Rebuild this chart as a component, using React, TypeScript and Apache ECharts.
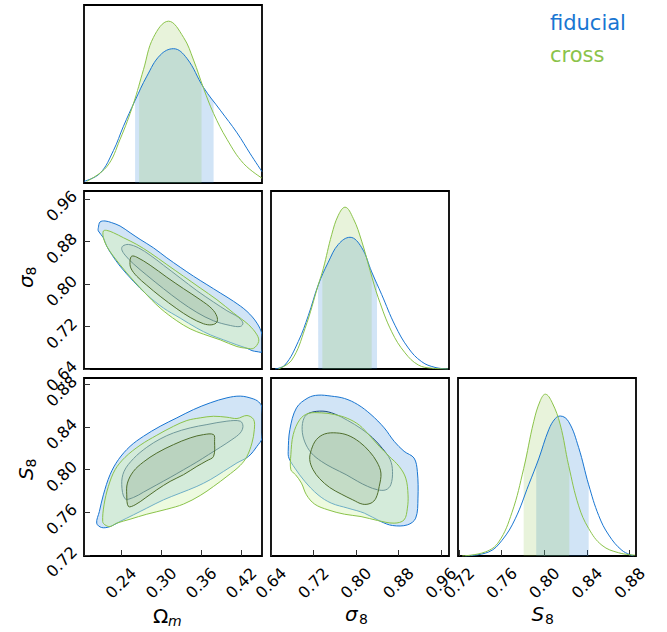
import React, { useEffect, useRef } from 'react';
import * as echarts from 'echarts';

const BLUE = '#1976D2';
const GREEN = '#8BC34A';
const FONT = 'DejaVu Sans';

// axis ranges
const OMEGA_RANGE = [0.1845, 0.451];
const SIGMA_RANGE = [0.64, 0.975];
const S8_RANGE = [0.719, 0.886];
const DENSITY_MAX = 1.1;

// tick labels
const OMEGA_TICKS = [0.24, 0.3, 0.36, 0.42];
const SIGMA_TICKS = [0.64, 0.72, 0.8, 0.88, 0.96];
const S8_TICKS = [0.72, 0.76, 0.8, 0.84, 0.88];

// legend
const CHAINS = ['fiducial', 'cross'];

// 1D marginals [value, density]
const omegaFiducial = [[0.1845,0.01],[0.2085,0.06],[0.2285,0.2],[0.2435,0.35],[0.261,0.51],[0.2786,0.66],[0.2985,0.79],[0.3185,0.83],[0.3386,0.77],[0.3635,0.59],[0.3885,0.45],[0.4136,0.31],[0.4335,0.18],[0.451,0.07]];
const omegaCross = [[0.1885,0.01],[0.2185,0.1],[0.2385,0.27],[0.2585,0.49],[0.2735,0.7],[0.2885,0.9],[0.311,1.0],[0.3335,0.9],[0.3485,0.76],[0.3635,0.585],[0.3785,0.43],[0.3986,0.27],[0.4235,0.12],[0.451,0.03]];
const sigmaFiducial = [[0.6475,0],[0.6663,0.025],[0.6914,0.17],[0.7102,0.33],[0.729,0.52],[0.7478,0.66],[0.7667,0.77],[0.7887,0.814],[0.8107,0.75],[0.8295,0.6],[0.8483,0.46],[0.8734,0.27],[0.8984,0.13],[0.9236,0.045],[0.9486,0.01],[0.9731,0]];
const sigmaCross = [[0.6537,0],[0.679,0.055],[0.704,0.25],[0.729,0.52],[0.7384,0.62],[0.7542,0.83],[0.7667,0.95],[0.7793,1.0],[0.7949,0.93],[0.8107,0.79],[0.8263,0.61],[0.8419,0.44],[0.8672,0.23],[0.8922,0.1],[0.9172,0.025],[0.9424,0.005],[0.9731,0]];
const s8Fiducial = [[0.7258,0],[0.7478,0.025],[0.7603,0.097],[0.7727,0.23],[0.7853,0.44],[0.7947,0.6],[0.8041,0.78],[0.8103,0.85],[0.815,0.865],[0.8228,0.83],[0.8322,0.67],[0.8416,0.44],[0.851,0.25],[0.8604,0.13],[0.8728,0.035],[0.8838,0]];
const s8Cross = [[0.7228,0],[0.7446,0.025],[0.7572,0.087],[0.7697,0.27],[0.7806,0.54],[0.79,0.83],[0.7962,0.96],[0.8009,1.0],[0.8072,0.95],[0.815,0.81],[0.8228,0.56],[0.8322,0.31],[0.8416,0.17],[0.8541,0.066],[0.8697,0.02],[0.8853,0.005]];

// 68% intervals
const omegaFiducialBand = [0.261, 0.3785];
const omegaCrossBand = [0.267, 0.3605];
const sigmaFiducialBand = [0.7285, 0.8395];
const sigmaCrossBand = [0.7366, 0.8295];
const s8FiducialBand = [0.7924, 0.8416];
const s8CrossBand = [0.7806, 0.8234];

// 2D contours: Omega_m vs sigma_8
const omSigFid95 = [[0.206,0.906],[0.2085,0.9167],[0.216,0.9186],[0.226,0.9154],[0.2385,0.9091],[0.2535,0.8965],[0.2685,0.8839],[0.2885,0.8681],[0.3085,0.8492],[0.3285,0.8316],[0.3485,0.8146],[0.3685,0.7988],[0.3885,0.7831],[0.4085,0.7673],[0.4285,0.7484],[0.4435,0.7263],[0.451,0.7043],[0.451,0.6727],[0.4435,0.6727],[0.436,0.6746],[0.4285,0.679],[0.4135,0.6854],[0.3935,0.6948],[0.3735,0.7043],[0.3535,0.7169],[0.3285,0.7358],[0.3035,0.7547],[0.2785,0.7799],[0.2585,0.8051],[0.2385,0.8335],[0.226,0.8555],[0.2185,0.8713],[0.2135,0.8871],[0.206,0.8997]];
const omSigCross95 = [[0.2135,0.8997],[0.2185,0.9009],[0.2285,0.8965],[0.2435,0.8871],[0.2635,0.8744],[0.2835,0.8587],[0.3085,0.8366],[0.3335,0.8146],[0.3585,0.7925],[0.3835,0.7704],[0.4085,0.7452],[0.431,0.7232],[0.4435,0.7043],[0.446,0.6917],[0.4385,0.679],[0.4285,0.679],[0.4135,0.6822],[0.3885,0.6948],[0.3635,0.7055],[0.3435,0.7156],[0.3235,0.7307],[0.2985,0.7547],[0.2735,0.7862],[0.2485,0.8209],[0.2285,0.8524],[0.2185,0.8713],[0.2135,0.8871]];
const omSigFid68 = [[0.2425,0.8713],[0.251,0.8744],[0.266,0.8681],[0.2835,0.8543],[0.3035,0.8354],[0.3285,0.8114],[0.3535,0.7875],[0.3785,0.766],[0.3985,0.7497],[0.416,0.737],[0.4225,0.7263],[0.4185,0.72],[0.4035,0.7219],[0.3785,0.7307],[0.3535,0.7465],[0.3285,0.7673],[0.3035,0.7912],[0.2785,0.8165],[0.2585,0.8379],[0.246,0.8543],[0.241,0.865]];
const omSigCross68 = [[0.2535,0.8442],[0.256,0.8524],[0.2635,0.8505],[0.2835,0.8354],[0.3085,0.8127],[0.3335,0.7912],[0.3585,0.7704],[0.376,0.7534],[0.3835,0.7389],[0.3835,0.7282],[0.376,0.7232],[0.3635,0.7251],[0.3435,0.737],[0.3235,0.7534],[0.2985,0.7768],[0.2785,0.7976],[0.2635,0.8146],[0.2545,0.8303]];

// Omega_m vs S_8
const omS8Fid95 = [[0.2035,0.7498],[0.2075,0.7607],[0.2135,0.7764],[0.2235,0.7953],[0.236,0.8094],[0.2535,0.8219],[0.2735,0.8313],[0.2985,0.8407],[0.3235,0.8486],[0.3485,0.8564],[0.3735,0.8627],[0.3985,0.8674],[0.4185,0.869],[0.436,0.8668],[0.446,0.8636],[0.451,0.858],[0.451,0.8298],[0.4435,0.8219],[0.431,0.8125],[0.4135,0.8063],[0.3935,0.7984],[0.3735,0.7906],[0.3535,0.7843],[0.3285,0.778],[0.3035,0.7717],[0.2785,0.7639],[0.2585,0.7576],[0.2385,0.7514],[0.2235,0.7466],[0.211,0.7457]];
const omS8Cross95 = [[0.2125,0.7513],[0.2145,0.767],[0.221,0.7843],[0.231,0.7999],[0.246,0.8116],[0.2685,0.8229],[0.2935,0.8323],[0.3185,0.8407],[0.3385,0.8461],[0.3585,0.8486],[0.3785,0.8501],[0.3985,0.8492],[0.4135,0.848],[0.4285,0.8508],[0.4385,0.847],[0.4395,0.8376],[0.436,0.8251],[0.4285,0.8125],[0.4185,0.804],[0.3985,0.7937],[0.3785,0.7843],[0.3585,0.7758],[0.3335,0.7677],[0.3085,0.7629],[0.2785,0.7582],[0.2535,0.7535],[0.2335,0.7498],[0.2235,0.7466],[0.216,0.7482]];
const omS8Fid68 = [[0.246,0.7727],[0.241,0.7859],[0.2445,0.7984],[0.2585,0.8103],[0.2785,0.821],[0.2985,0.8288],[0.3185,0.8345],[0.3435,0.8392],[0.3685,0.8423],[0.3985,0.8455],[0.4185,0.8455],[0.4225,0.8407],[0.4185,0.8345],[0.406,0.8282],[0.3885,0.821],[0.371,0.8141],[0.3535,0.8072],[0.3335,0.7999],[0.3135,0.7927],[0.2935,0.7858],[0.2735,0.7789],[0.2585,0.7739]];
const omS8Cross68 = [[0.251,0.7655],[0.2485,0.7764],[0.2495,0.7874],[0.2585,0.7984],[0.2735,0.8072],[0.2935,0.8156],[0.3185,0.8235],[0.3435,0.8298],[0.3635,0.8329],[0.3785,0.8329],[0.38,0.8266],[0.3785,0.8125],[0.3685,0.8084],[0.3535,0.8031],[0.3335,0.7953],[0.3135,0.789],[0.2935,0.7811],[0.276,0.7733],[0.261,0.767]];

// sigma_8 vs S_8
const sigS8Fid95 = [[0.6724,0.8172],[0.6755,0.8376],[0.688,0.858],[0.7098,0.8674],[0.7285,0.8699],[0.7534,0.869],[0.7783,0.8668],[0.8032,0.8611],[0.8282,0.8517],[0.8531,0.8392],[0.8718,0.8266],[0.8905,0.8172],[0.9092,0.8109],[0.9154,0.7984],[0.9166,0.7733],[0.9123,0.7545],[0.8967,0.7482],[0.8687,0.7476],[0.8469,0.7513],[0.8157,0.7592],[0.7846,0.7639],[0.7534,0.7686],[0.7285,0.7764],[0.7036,0.789],[0.6849,0.8015],[0.6737,0.8109]];
const sigS8Cross95 = [[0.6774,0.7999],[0.6774,0.8141],[0.6818,0.8329],[0.6942,0.847],[0.7098,0.8527],[0.7347,0.8533],[0.7596,0.8517],[0.7846,0.848],[0.8064,0.8417],[0.825,0.8323],[0.8437,0.8219],[0.8624,0.8125],[0.8811,0.8031],[0.8936,0.7921],[0.8979,0.7764],[0.8967,0.7639],[0.8905,0.7529],[0.8718,0.7498],[0.8406,0.7523],[0.8095,0.756],[0.7783,0.7582],[0.7472,0.7623],[0.7223,0.7676],[0.7067,0.7764],[0.6973,0.7874],[0.6861,0.7953]];
const sigS8Fid68 = [[0.6986,0.8376],[0.7023,0.8486],[0.7129,0.8533],[0.7378,0.8549],[0.7596,0.8523],[0.7846,0.8461],[0.8095,0.8385],[0.8313,0.8298],[0.85,0.8197],[0.8643,0.8094],[0.8687,0.7984],[0.8655,0.7859],[0.8562,0.7811],[0.8406,0.7811],[0.8219,0.7843],[0.8032,0.789],[0.7814,0.7953],[0.7565,0.8015],[0.7347,0.8078],[0.716,0.8156],[0.7036,0.826]];
const sigS8Cross68 = [[0.7129,0.8094],[0.716,0.8188],[0.7254,0.8282],[0.741,0.8335],[0.7628,0.8345],[0.7846,0.8323],[0.8064,0.826],[0.8251,0.8172],[0.8394,0.8072],[0.8469,0.7968],[0.8437,0.7843],[0.8375,0.7733],[0.8282,0.7686],[0.8126,0.7676],[0.7939,0.7717],[0.7721,0.7771],[0.7503,0.7833],[0.7316,0.7915],[0.7192,0.7999]];

const FILL = {
  blue95: 'rgba(25,118,210,0.2)',
  blue68: 'rgba(20,60,110,0.1)',
  green95: 'rgba(215,245,185,0.45)',
  green68: 'rgba(60,90,30,0.1)',
  blueBand: 'rgba(25,118,210,0.2)',
  greenBand: 'rgba(139,195,74,0.2)',
};
const EDGE = { blue95: BLUE, blue68: '#1C4E82', green95: GREEN, green68: '#4F6E2C' };

function bandPoints(curve: number[][], lo: number, hi: number) {
  const at = (x: number) => {
    for (let i = 0; i < curve.length - 1; i++) {
      const a = curve[i], b = curve[i + 1];
      if (x >= a[0] && x <= b[0]) return a[1] + ((b[1] - a[1]) * (x - a[0])) / (b[0] - a[0]);
    }
    return 0;
  };
  const out: number[][] = [[lo, at(lo)]];
  curve.forEach((p) => { if (p[0] > lo && p[0] < hi) out.push(p); });
  out.push([hi, at(hi)]);
  return out;
}

const GRIDS = [
  { left: 84, top: 5 },
  { left: 84, top: 191 },
  { left: 271, top: 191 },
  { left: 84, top: 378 },
  { left: 271, top: 378 },
  { left: 458, top: 378 },
];

export default function App() {
  const ref = useRef<HTMLDivElement>(null);
  useEffect(() => {
    if (!ref.current) return;
    const chart = echarts.init(ref.current, undefined, { renderer: 'svg' });

    const fmt = (v: number) => v.toFixed(2);
    const LABEL_SIZE = 16;
    const xAxis = (gi: number, range: number[], ticks: number[] | null) => ({
      type: 'value', gridIndex: gi, min: range[0], max: range[1],
      axisLine: { show: false }, splitLine: { show: false },
      axisTick: ticks ? { show: true, inside: true, length: 6, customValues: ticks, lineStyle: { color: '#333', width: 1 } } : { show: false },
      axisLabel: ticks ? { show: true, customValues: ticks, rotate: 45, align: 'center', verticalAlign: 'middle', margin: 27, fontSize: LABEL_SIZE, fontFamily: FONT, color: '#000', formatter: fmt } : { show: false },
    });
    const yAxis = (gi: number, range: number[], ticks: number[] | null) => ({
      type: 'value', gridIndex: gi, min: range[0], max: range[1],
      axisLine: { show: false }, splitLine: { show: false },
      axisTick: ticks ? { show: true, inside: true, length: 6, customValues: ticks, lineStyle: { color: '#333', width: 1 } } : { show: false },
      axisLabel: ticks ? { show: true, customValues: ticks, rotate: 45, align: 'right', verticalAlign: 'bottom', margin: 4, fontSize: LABEL_SIZE, fontFamily: FONT, color: '#000', formatter: fmt } : { show: false },
    });

    const dens = [0, DENSITY_MAX];
    const xAxes = [
      xAxis(0, OMEGA_RANGE, null), xAxis(1, OMEGA_RANGE, null), xAxis(2, SIGMA_RANGE, null),
      xAxis(3, OMEGA_RANGE, OMEGA_TICKS), xAxis(4, SIGMA_RANGE, SIGMA_TICKS), xAxis(5, S8_RANGE, S8_TICKS),
    ];
    const yAxes = [
      yAxis(0, dens, null), yAxis(1, SIGMA_RANGE, SIGMA_TICKS), yAxis(2, dens, null),
      yAxis(3, S8_RANGE, S8_TICKS), yAxis(4, S8_RANGE, null), yAxis(5, dens, null),
    ];

    const line = (gi: number, data: number[][], color: string) => ({
      type: 'line', xAxisIndex: gi, yAxisIndex: gi, data, smooth: 0.4, showSymbol: false, silent: true,
      lineStyle: { color, width: 1 }, clip: true,
    });
    const band = (gi: number, curve: number[][], b: number[], fill: string) => ({
      type: 'line', xAxisIndex: gi, yAxisIndex: gi, data: bandPoints(curve, b[0], b[1]), smooth: 0.4,
      showSymbol: false, silent: true, lineStyle: { width: 0, opacity: 0 }, areaStyle: { color: fill, opacity: 1 },
    });
    const poly = (gi: number, data: number[][], fill: string, stroke: string) => ({
      type: 'custom', xAxisIndex: gi, yAxisIndex: gi, clip: true, silent: true, data,
      encode: { x: 0, y: 1 },
      renderItem: (params: any, api: any) => {
        if (params.dataIndex !== 0) return null;
        const pts = data.map((p) => api.coord(p));
        return { type: 'polygon', shape: { points: pts, smooth: 0.35 }, style: { fill, stroke, lineWidth: 1 } };
      },
    });

    const series: any[] = [
      band(0, omegaFiducial, omegaFiducialBand, FILL.blueBand),
      band(0, omegaCross, omegaCrossBand, FILL.greenBand),
      line(0, omegaFiducial, BLUE), line(0, omegaCross, GREEN),
      band(2, sigmaFiducial, sigmaFiducialBand, FILL.blueBand),
      band(2, sigmaCross, sigmaCrossBand, FILL.greenBand),
      line(2, sigmaFiducial, BLUE), line(2, sigmaCross, GREEN),
      band(5, s8Fiducial, s8FiducialBand, FILL.blueBand),
      band(5, s8Cross, s8CrossBand, FILL.greenBand),
      line(5, s8Fiducial, BLUE), line(5, s8Cross, GREEN),
      poly(1, omSigFid95, FILL.blue95, EDGE.blue95), poly(1, omSigFid68, FILL.blue68, EDGE.blue68),
      poly(1, omSigCross95, FILL.green95, EDGE.green95), poly(1, omSigCross68, FILL.green68, EDGE.green68),
      poly(3, omS8Fid95, FILL.blue95, EDGE.blue95), poly(3, omS8Fid68, FILL.blue68, EDGE.blue68),
      poly(3, omS8Cross95, FILL.green95, EDGE.green95), poly(3, omS8Cross68, FILL.green68, EDGE.green68),
      poly(4, sigS8Fid95, FILL.blue95, EDGE.blue95), poly(4, sigS8Fid68, FILL.blue68, EDGE.blue68),
      poly(4, sigS8Cross95, FILL.green95, EDGE.green95), poly(4, sigS8Cross68, FILL.green68, EDGE.green68),
    ];

    const txt = (text: string, x: number, y: number, size: number, italic: boolean, color = '#000') => ({
      type: 'text', x, y, silent: true,
      style: {
        text, fill: color, fontSize: size, fontFamily: FONT, fontStyle: italic ? 'italic' : 'normal',
        textAlign: 'left', textVerticalAlign: 'middle', align: 'left', verticalAlign: 'middle',
      },
    });
    const yTitle = (main: string, sub: string, x: number, y: number) => ({
      type: 'group', x, y, rotation: Math.PI / 2,
      children: [
        { ...txt(main, 0, -6.9, 20, true) },
        { ...txt(sub, 12.5, -1.8, 14, false) },
      ],
    });

    const graphic = [
      txt('Ω', 153, 615.8, 20, false), txt('m', 168, 621.2, 14, true),
      txt('σ', 345, 614.1, 20, true), txt('8', 359, 619.2, 14, false),
      txt('S', 531.5, 614.1, 20, true), txt('8', 545, 619.2, 14, false),
      yTitle('σ', '8', 33, 288),
      yTitle('S', '8', 33, 480),
      txt(CHAINS[0], 550, 22.7, 21, false, BLUE),
      txt(CHAINS[1], 550, 55, 21, false, GREEN),
    ];

    chart.setOption({
      animation: false,
      backgroundColor: '#fff',
      grid: GRIDS.map((g) => ({ left: g.left, top: g.top, width: 178, height: 178, show: true, borderColor: '#000', borderWidth: 1.8, backgroundColor: 'transparent' })),
      xAxis: xAxes,
      yAxis: yAxes,
      series,
      graphic,
    } as any);
    return () => chart.dispose();
  }, []);
  return <div ref={ref} style={{ position: 'fixed', left: 0, top: 0, width: 667, height: 632 }} />;
}
